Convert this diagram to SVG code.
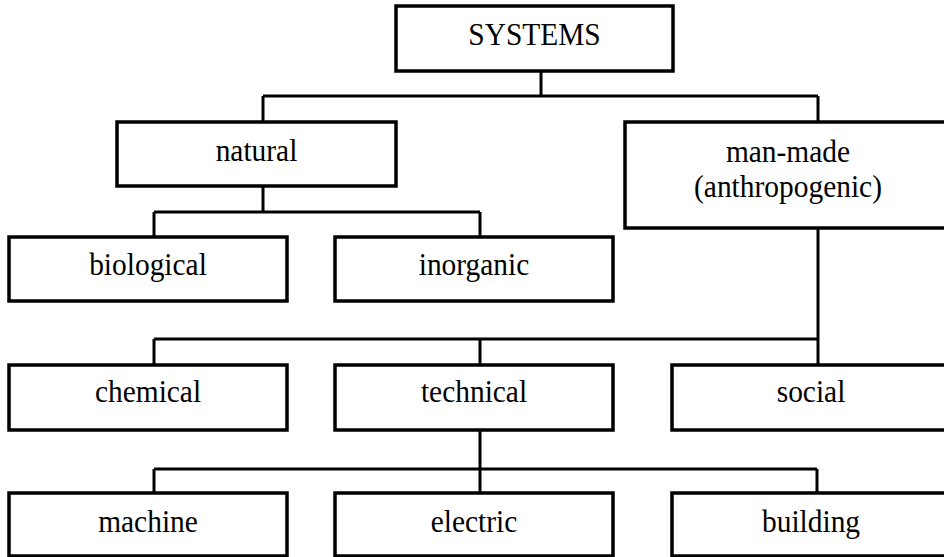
<svg xmlns="http://www.w3.org/2000/svg" width="944" height="557" viewBox="0 0 944 557">
<style>
.box{fill:#fff;stroke:#000;stroke-width:3.5}
.lbl{font-family:"Liberation Serif","Times New Roman",serif;font-size:32px;fill:#000;text-anchor:middle}
.con{fill:none;stroke:#000;stroke-width:3}
</style>
<rect width="944" height="557" fill="#fff"/>
<g id="connectors" class="con">
<path d="M541 71V96M263 96H818M263 96V122M818 96V122"/>
<path d="M263 186V212M154 212H480M154 212V237M480 212V237"/>
<path d="M818 228V365M154 339H818M154 339V365M480 339V365"/>
<path d="M480 430V469M154 469H817M154 469V493M480 469V493M817 469V493"/>
</g>
<g id="systems"><rect class="box" x="396" y="6" width="277" height="65"/><text class="lbl" transform="translate(534.5 45) scale(0.92 1)">SYSTEMS</text></g>
<g id="natural"><rect class="box" x="117" y="122" width="279" height="64"/><text class="lbl" transform="translate(256.5 161) scale(0.92 1)">natural</text></g>
<g id="man-made"><rect class="box" x="625" y="122" width="330" height="106"/><text class="lbl" transform="translate(788 162) scale(0.92 1)">man-made</text><text class="lbl" transform="translate(788 197) scale(0.92 1)">(anthropogenic)</text></g>
<g id="biological"><rect class="box" x="9" y="237" width="278" height="64"/><text class="lbl" transform="translate(148 275) scale(0.92 1)">biological</text></g>
<g id="inorganic"><rect class="box" x="335" y="237" width="278" height="64"/><text class="lbl" transform="translate(474 275) scale(0.92 1)">inorganic</text></g>
<g id="chemical"><rect class="box" x="9" y="365" width="278" height="65"/><text class="lbl" transform="translate(148 402) scale(0.92 1)">chemical</text></g>
<g id="technical"><rect class="box" x="335" y="365" width="278" height="65"/><text class="lbl" transform="translate(474 402) scale(0.92 1)">technical</text></g>
<g id="social"><rect class="box" x="672" y="365" width="290" height="65"/><text class="lbl" transform="translate(811 402) scale(0.92 1)">social</text></g>
<g id="machine"><rect class="box" x="9" y="493" width="278" height="63"/><text class="lbl" transform="translate(148 532) scale(0.92 1)">machine</text></g>
<g id="electric"><rect class="box" x="335" y="493" width="278" height="63"/><text class="lbl" transform="translate(474 532) scale(0.92 1)">electric</text></g>
<g id="building"><rect class="box" x="672" y="493" width="290" height="63"/><text class="lbl" transform="translate(811 532) scale(0.92 1)">building</text></g>
</svg>
